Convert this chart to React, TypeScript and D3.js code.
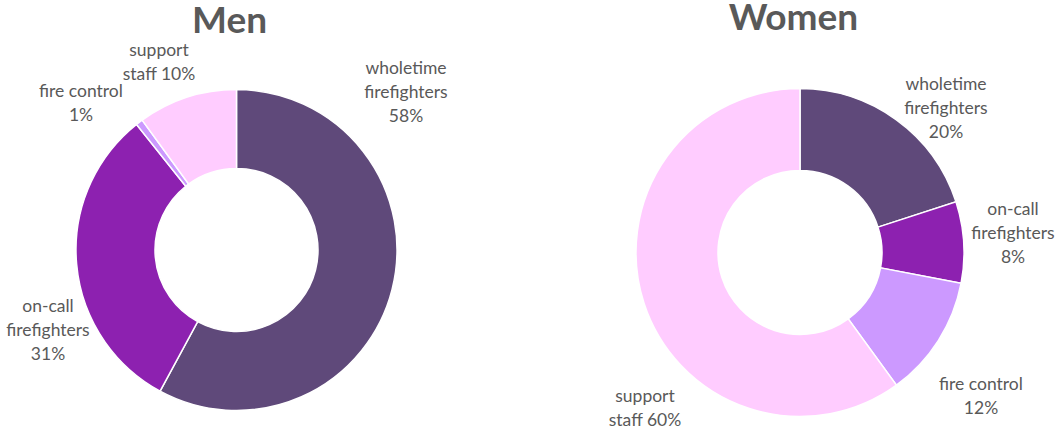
import React from "react";
import * as d3 from "d3";

const categories = ["wholetime firefighters", "on-call firefighters", "fire control", "support staff"];
const menValues = [57.9, 31.4, 0.7, 10.0];
const womenValues = [20, 8, 12, 60];
const colors = ["#5f497a", "#8d21b0", "#cc99ff", "#ffccff"];

const labelLinesMen = [
  ["wholetime", "firefighters", "58%"],
  ["on-call", "firefighters", "31%"],
  ["fire control", "1%"],
  ["support", "staff 10%"],
];
const labelLinesWomen = [
  ["wholetime", "firefighters", "20%"],
  ["on-call", "firefighters", "8%"],
  ["fire control", "12%"],
  ["support", "staff 60%"],
];

const W = 1061;
const H = 428;

type ChartSpec = {
  title: string;
  values: number[];
  lines: string[][];
  cx: number;
  cy: number;
  r: number;
  ri: number;
  titleX: number;
  titleY: number;
  labelPos: [number, number][];
};

const charts: ChartSpec[] = [
  {
    title: "Men",
    values: menValues,
    lines: labelLinesMen,
    cx: 236.5,
    cy: 250,
    r: 160.5,
    ri: 81.5,
    titleX: 229.5,
    titleY: 33,
    labelPos: [
      [406, 74],
      [48, 312],
      [81, 97],
      [159, 56],
    ],
  },
  {
    title: "Women",
    values: womenValues,
    lines: labelLinesWomen,
    cx: 800,
    cy: 252.5,
    r: 164,
    ri: 82,
    titleX: 793.5,
    titleY: 29.5,
    labelPos: [
      [946, 90],
      [1013, 215],
      [981, 390],
      [645, 402],
    ],
  },
];

const LINE_H = 24;

function Donut({ spec }: { spec: ChartSpec }) {
  const pie = d3.pie<number>().sort(null).value((d) => d);
  const arcs = pie(spec.values);
  const arc = d3.arc<d3.PieArcDatum<number>>().innerRadius(spec.ri).outerRadius(spec.r);
  return (
    <g>
      <text
        x={spec.titleX}
        y={spec.titleY}
        textAnchor="middle"
        fontFamily="Lato, 'Open Sans', sans-serif"
        fontWeight="bold"
        fontSize={37}
        fill="#595959"
      >
        {spec.title}
      </text>
      <g transform={`translate(${spec.cx},${spec.cy})`}>
        {arcs.map((a, i) => (
          <path key={i} d={arc(a) || ""} fill={colors[i]} stroke="#ffffff" strokeWidth={1.5} />
        ))}
      </g>
      {spec.lines.map((lines, i) => (
        <text
          key={i}
          x={spec.labelPos[i][0]}
          y={spec.labelPos[i][1]}
          textAnchor="middle"
          fontFamily="Lato, 'Open Sans', sans-serif"
          fontSize={17.5}
          fill="#595959"
        >
          {lines.map((ln, j) => (
            <tspan key={j} x={spec.labelPos[i][0]} dy={j === 0 ? 0 : LINE_H}>
              {ln}
            </tspan>
          ))}
        </text>
      ))}
    </g>
  );
}

export default function App() {
  return (
    <svg
      width={W}
      height={H}
      style={{ position: "absolute", left: 0, top: 0, background: "#ffffff" }}
      aria-label={categories.join(", ")}
    >
      <rect x={0} y={0} width={W} height={H} fill="#ffffff" />
      {charts.map((c) => (
        <Donut key={c.title} spec={c} />
      ))}
    </svg>
  );
}
